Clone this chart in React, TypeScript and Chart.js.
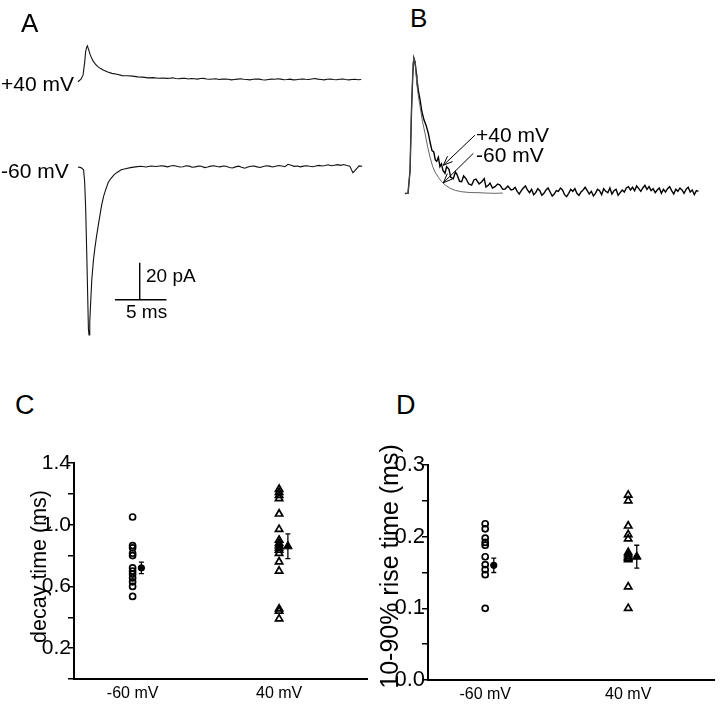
import React, { useEffect, useRef } from 'react';
import { Chart, registerables } from 'chart.js';
Chart.register(...registerables);

const FONT = '"Liberation Sans", Arial, Helvetica, sans-serif';
Chart.defaults.font.family = FONT;
Chart.defaults.color = '#000';

// ---------------- Panel A: EPSC traces (time in ms, current in pA relative to baseline)
const A_POS40_TIME = [-0.3, 0.0, 0.2, 0.35, 0.45, 0.55, 0.62, 0.75, 0.9, 1.05, 1.2, 1.4, 1.6, 1.9, 2.2, 2.6, 3.0, 3.5, 4.0, 4.5, 5.0, 5.5, 6.0, 6.5, 7.0, 7.5];
const A_POS40_CURRENT = [-1.2, 0.2, 2.5, 9, 15, 17.5, 18.2, 16, 13.3, 11.3, 9.8, 8.3, 7.1, 5.9, 5.0, 4.0, 3.3, 2.8, 2.1, 2.0, 1.8, 1.4, 1.3, 0.9, 1.0, 0.7];
const A_POS40_TAIL_START = 8.0;
const A_POS40_TAIL = [0.8, 0.6, 0.7, 0.9, 0.5, 0.4, 0.6, 0.7, 0.3, 0.5,
  0.4, 0.2, 0.5, 0.6, 0.3, 0.1, 0.3, 0.4, 0.0, 0.2,
  0.3, 0.1, -0.2, 0.0, 0.2, 0.4, 0.1, 0.0, -0.2, 0.1,
  0.3, 0.2, -0.1, -0.3, 0.0, 0.2, 0.1, 0.4, 0.2, -0.1,
  0.0, 0.2, -0.2, -0.1, 0.1, 0.3, 0.1, 0.0, 0.3, 0.5,
  0.2, 0.0, -0.2, 0.1, 0.2, 0.0, -0.1, 0.1, 0.3, 0.0,
  -0.2, 0.0, 0.1, -0.1, 0.0];
const A_NEG60_TIME = [-0.3, 0.0, 0.25, 0.35, 0.45, 0.55, 0.65, 0.72, 0.78, 0.85, 0.95, 1.05, 1.2, 1.35, 1.5, 1.7, 1.85, 2.0, 2.2, 2.4, 2.65, 2.9, 3.2, 3.5, 3.9, 4.3, 4.8, 5.3, 5.8, 6.3, 6.8, 7.3, 7.8];
const A_NEG60_CURRENT = [-0.3, -0.6, -1.8, -8, -22, -45, -70, -88, -91, -84, -72, -61, -51, -44, -38, -31, -26, -21, -16, -12.5, -8.5, -6.5, -4.5, -3.2, -1.8, -1.2, -0.6, -0.2, 0.1, -0.3, 0.3, 0.0, 0.4];
const A_NEG60_TAIL_START = 8.1;
const A_NEG60_TAIL = [0.2, -0.2, 0.3, 0.5, 0.1, -0.3, -0.1, 0.4, 0.2, -0.4,
  -0.2, 0.3, 0.1, -0.6, -0.3, 0.2, 0.4, 0.0, -0.2, 0.3,
  0.1, -0.5, -0.8, -0.2, 0.2, -0.4, -0.9, -0.3, 0.1, 0.3,
  -0.2, -0.5, 0.0, 0.4, 0.2, -0.3, 0.1, 0.5, 0.3, -0.1,
  1.2, 0.7, 0.1, 0.3, -0.2, 0.2, 0.4, 0.1, -0.1, 0.3,
  0.6, 0.3, 0.5, 0.9, 0.4, 0.7, 1.0, 0.6, 1.1, 0.5,
  0.2, -3.4, -1.5, 0.3, 0.1];
const A_TAIL_DT = 0.3;
// scale bar: 5 ms, 20 pA
const SCALE_MS = 5;
const SCALE_PA = 20;
const SCALE_T0 = 3.3;
const SCALE_VT = 5.7;
const SCALE_I0 = -72;

// ---------------- Panel B: normalized traces
const B_POS40_TIME = [-0.3, 0.0, 0.2, 0.34, 0.45, 0.52, 0.58, 0.66, 0.75, 0.87, 1.0, 1.17, 1.35, 1.55, 1.75, 1.97, 2.15, 2.33, 2.5, 2.65, 2.79, 2.95, 3.1, 3.25, 3.4, 3.59, 3.75, 3.98, 4.15, 4.4, 4.6, 4.76, 5.0, 5.21, 5.4, 5.63, 5.9, 6.18, 6.4, 6.6, 6.9, 7.16, 7.4, 7.57, 7.8, 7.96, 8.2, 8.45, 8.7, 8.93, 9.2, 9.42, 9.7, 10.0];
const B_POS40_NORM = [-0.01, -0.01, 0.16, 0.61, 0.85, 0.97, 1.0, 0.98, 0.93, 0.84, 0.76, 0.69, 0.6, 0.54, 0.5, 0.44, 0.37, 0.31, 0.30, 0.24, 0.23, 0.26, 0.19, 0.21, 0.16, 0.14, 0.19, 0.17, 0.11, 0.10, 0.15, 0.13, 0.08, 0.077, 0.12, 0.10, 0.06, 0.052, 0.09, 0.097, 0.06, 0.077, 0.10, 0.037, 0.05, 0.067, 0.03, 0.04, 0.06, 0.052, 0.02, 0.022, 0.045, 0.015];
const B_POS40_TAIL_START = 10.2;
const B_TAIL_DT = 0.2;
const B_POS40_TAIL = [0.02, 0.035, 0.005, -0.015, 0.01, 0.03, 0.045, 0.015, -0.005, 0.02,
  -0.02, -0.005, 0.025, 0.01, -0.025, -0.01, 0.015, 0.03, 0.0, -0.03,
  -0.015, 0.01, 0.005, 0.03, 0.015, -0.02, -0.035, -0.01, 0.02, 0.005,
  0.025, -0.01, -0.025, 0.0, 0.015, 0.035, 0.01, -0.015, 0.005, -0.03,
  -0.01, 0.02, 0.01, -0.02, 0.025, 0.005, -0.005, 0.03, -0.015, 0.01,
  0.02, -0.025, -0.005, 0.015, 0.0, 0.03, 0.04, 0.015, 0.035, 0.01,
  0.045, 0.025, 0.005, 0.03, 0.05, 0.02, 0.04, 0.01, 0.025, -0.005,
  0.015, 0.03, -0.01, 0.02, 0.0, 0.025, 0.04, 0.01, -0.015, 0.02,
  0.005, 0.03, 0.015, -0.01, 0.02, 0.035, 0.0, 0.015, -0.02, 0.01,
  0.005];
const B_NEG60_TIME = [-0.3, 0.0, 0.2, 0.34, 0.45, 0.52, 0.58, 0.68, 0.78, 0.87, 1.0, 1.17, 1.4, 1.65, 1.9, 2.14, 2.4, 2.62, 2.95, 3.27, 3.65, 4.08, 4.6, 5.21, 6.0, 6.8, 7.6, 8.45, 9.2];
const B_NEG60_NORM = [-0.015, -0.01, 0.16, 0.61, 0.86, 0.97, 1.0, 0.97, 0.88, 0.80, 0.72, 0.64, 0.53, 0.44, 0.34, 0.26, 0.19, 0.15, 0.11, 0.077, 0.05, 0.028, 0.012, 0.002, -0.004, -0.005, -0.008, -0.01, -0.008];
const B_ARROWS = [
  { label: '+40 mV', tailT: 6.5, tailN: 0.425, tipT: 3.43, tipN: 0.2 },
  { label: '-60 mV', tailT: 6.34, tailN: 0.289, tipT: 3.43, tipN: 0.069 },
];

// ---------------- Panels C & D: summary data
const GROUP_LABELS = ['-60 mV', '40 mV'];
const GROUP_POS = [1, 2];
const MEAN_OFFSET = 0.06;

const C_NEG60 = [1.05, 0.865, 0.85, 0.815, 0.80, 0.72, 0.70, 0.68, 0.655, 0.63, 0.60, 0.535];
const C_POS40 = [1.23, 1.21, 1.19, 1.17, 1.07, 0.97, 0.90, 0.88, 0.865, 0.85, 0.835, 0.815, 0.76, 0.70, 0.455, 0.44, 0.39];
const C_MEAN = [0.72, 0.86];
const C_SEM = [0.037, 0.08];
const C_Y_TICKS = [0, 0.2, 0.4, 0.6, 0.8, 1.0, 1.2, 1.4];
const C_Y_LABELS = ['', '0.2', '', '0.6', '', '1.0', '', '1.4'];
const C_TITLE = 'decay time (ms)';

const D_NEG60 = [0.218, 0.211, 0.198, 0.192, 0.188, 0.172, 0.161, 0.154, 0.147, 0.10];
const D_POS40 = [0.258, 0.25, 0.215, 0.203, 0.197, 0.178, 0.175, 0.172, 0.17, 0.168, 0.13, 0.10];
const D_MEAN = [0.16, 0.172];
const D_SEM = [0.01, 0.016];
const D_Y_TICKS = [0, 0.05, 0.1, 0.15, 0.2, 0.25, 0.3];
const D_Y_LABELS = ['0.0', '', '0.1', '', '0.2', '', '0.3'];
const D_TITLE = '10-90% rise time (ms)';

// ---------------- helpers
function ChartCanvas({ make, left, top, width, height }: any) {
  const ref = useRef<HTMLCanvasElement>(null);
  useEffect(() => {
    const chart = new Chart(ref.current as HTMLCanvasElement, make());
    return () => chart.destroy();
  }, []);
  return (
    <canvas
      ref={ref}
      width={width}
      height={height}
      style={{ position: 'absolute', left, top, width, height }}
    />
  );
}

function Label({ text, left, baseline, size }: any) {
  return (
    <div
      style={{
        position: 'absolute',
        left,
        top: baseline - 0.8465 * size,
        fontSize: size,
        lineHeight: `${size}px`,
        fontFamily: FONT,
        whiteSpace: 'nowrap',
        color: '#000',
      }}
    >
      {text}
    </div>
  );
}

const pairs = (t: number[], v: number[]) => t.map((x, i) => ({ x, y: v[i] }));
const tail = (start: number, dt: number, v: number[]) => v.map((y, i) => ({ x: start + i * dt, y }));

const baseOptions: any = {
  responsive: false,
  animation: false,
  events: [],
  plugins: { legend: { display: false }, tooltip: { enabled: false } },
};

// ---------------- Panel A config
const A_W = 370, A_H = 350;
const A_X0 = 81, A_PX_MS = 10.3, A_PX_PA = 1.85, A_TOP_BASE = 79.5, A_BOT_BASE = 166.5;

function makeA() {
  return {
    type: 'line',
    data: {
      datasets: [
        { data: [...pairs(A_POS40_TIME, A_POS40_CURRENT), ...tail(A_POS40_TAIL_START, A_TAIL_DT, A_POS40_TAIL)], yAxisID: 'yTop', borderColor: '#111', borderWidth: 1.1 },
        { data: [...pairs(A_NEG60_TIME, A_NEG60_CURRENT), ...tail(A_NEG60_TAIL_START, A_TAIL_DT, A_NEG60_TAIL)], yAxisID: 'yBot', borderColor: '#111', borderWidth: 1.1 },
        { data: [{ x: SCALE_T0, y: SCALE_I0 }, { x: SCALE_T0 + SCALE_MS, y: SCALE_I0 }], yAxisID: 'yBot', borderColor: '#000', borderWidth: 1.4 },
        { data: [{ x: SCALE_VT, y: SCALE_I0 }, { x: SCALE_VT, y: SCALE_I0 + SCALE_PA }], yAxisID: 'yBot', borderColor: '#000', borderWidth: 1.4 },
      ],
    },
    options: {
      ...baseOptions,
      layout: { padding: 0 },
      elements: { point: { radius: 0 }, line: { tension: 0 } },
      scales: {
        x: { type: 'linear', display: false, min: -A_X0 / A_PX_MS, max: (A_W - A_X0) / A_PX_MS },
        yTop: { type: 'linear', display: false, min: -(A_H - A_TOP_BASE) / A_PX_PA, max: A_TOP_BASE / A_PX_PA },
        yBot: { type: 'linear', display: false, min: -(A_H - A_BOT_BASE) / A_PX_PA, max: A_BOT_BASE / A_PX_PA },
      },
    },
  };
}

// ---------------- Panel B config
const B_W = 320, B_H = 175;
const B_X0 = 8, B_PX_MS = 10.3, B_BASE = 152, B_PX_UNIT = 133.7;

const arrowPlugin = {
  id: 'arrowsB',
  afterDatasetsDraw(chart: any) {
    const { ctx } = chart;
    const x = chart.scales.x, y = chart.scales.y;
    ctx.save();
    ctx.strokeStyle = '#000';
    ctx.lineWidth = 1;
    B_ARROWS.forEach((a) => {
      const x1 = x.getPixelForValue(a.tailT), y1 = y.getPixelForValue(a.tailN);
      const x2 = x.getPixelForValue(a.tipT), y2 = y.getPixelForValue(a.tipN);
      const ang = Math.atan2(y2 - y1, x2 - x1);
      const L = 10, s = 0.38;
      ctx.beginPath();
      ctx.moveTo(x1, y1);
      ctx.lineTo(x2, y2);
      ctx.moveTo(x2 - L * Math.cos(ang - s), y2 - L * Math.sin(ang - s));
      ctx.lineTo(x2, y2);
      ctx.lineTo(x2 - L * Math.cos(ang + s), y2 - L * Math.sin(ang + s));
      ctx.stroke();
    });
    ctx.restore();
  },
};

function makeB() {
  return {
    type: 'line',
    data: {
      datasets: [
        { data: pairs(B_NEG60_TIME, B_NEG60_NORM), borderColor: '#555', borderWidth: 0.9 },
        { data: [...pairs(B_POS40_TIME, B_POS40_NORM), ...tail(B_POS40_TAIL_START, B_TAIL_DT, B_POS40_TAIL)], borderColor: '#000', borderWidth: 1.4 },
      ],
    },
    options: {
      ...baseOptions,
      layout: { padding: 0 },
      elements: { point: { radius: 0 }, line: { tension: 0 } },
      scales: {
        x: { type: 'linear', display: false, min: -B_X0 / B_PX_MS, max: (B_W - B_X0) / B_PX_MS },
        y: { type: 'linear', display: false, min: -(B_H - B_BASE) / B_PX_UNIT, max: B_BASE / B_PX_UNIT },
      },
    },
    plugins: [arrowPlugin],
  };
}

// ---------------- Panels C / D config
function errorBars(id: string, means: number[], sems: number[]) {
  return {
    id,
    afterDatasetsDraw(chart: any) {
      const { ctx } = chart;
      const x = chart.scales.x, y = chart.scales.y;
      ctx.save();
      ctx.strokeStyle = '#000';
      ctx.lineWidth = 1.3;
      means.forEach((m, i) => {
        const px = x.getPixelForValue(GROUP_POS[i] + MEAN_OFFSET);
        const yt = y.getPixelForValue(m + sems[i]);
        const yb = y.getPixelForValue(m - sems[i]);
        ctx.beginPath();
        ctx.moveTo(px, yt);
        ctx.lineTo(px, yb);
        ctx.moveTo(px - 2.5, yt);
        ctx.lineTo(px + 2.5, yt);
        ctx.moveTo(px - 2.5, yb);
        ctx.lineTo(px + 2.5, yb);
        ctx.stroke();
      });
      ctx.restore();
    },
  };
}

function yTitle(id: string, text: string, baselineX: number, centerY: number, size: number) {
  return {
    id,
    afterDraw(chart: any) {
      const { ctx } = chart;
      ctx.save();
      ctx.translate(baselineX, centerY);
      ctx.rotate(-Math.PI / 2);
      ctx.font = `${size}px ${FONT}`;
      ctx.fillStyle = '#000';
      ctx.textAlign = 'center';
      ctx.textBaseline = 'alphabetic';
      ctx.fillText(text, 0, 0);
      ctx.restore();
    },
  };
}

function makeSummary(opts: any) {
  const { neg, pos, means, sems, yTicks, yLabels, yMax, yWidth, xHeight, padTop, padRight, tickFont, id, title, titleX, titleY, titleSize } = opts;
  return {
    type: 'scatter',
    data: {
      datasets: [
        { data: neg.map((v: number) => ({ x: GROUP_POS[0], y: v })), pointStyle: 'circle', pointRadius: 3, borderColor: '#000', backgroundColor: 'rgba(0,0,0,0)', borderWidth: 1.7 },
        { data: pos.map((v: number) => ({ x: GROUP_POS[1], y: v })), pointStyle: 'triangle', pointRadius: 4.2, borderColor: '#000', backgroundColor: 'rgba(0,0,0,0)', borderWidth: 1.7 },
        { data: [{ x: GROUP_POS[0] + MEAN_OFFSET, y: means[0] }], pointStyle: 'circle', pointRadius: 3.2, borderColor: '#000', backgroundColor: '#000', borderWidth: 1 },
        { data: [{ x: GROUP_POS[1] + MEAN_OFFSET, y: means[1] }], pointStyle: 'triangle', pointRadius: 5, borderColor: '#000', backgroundColor: '#000', borderWidth: 1 },
      ],
    },
    options: {
      ...baseOptions,
      layout: { padding: { top: padTop, right: padRight, left: 0, bottom: 0 } },
      scales: {
        x: {
          type: 'linear',
          min: 0.6,
          max: 2.6,
          afterBuildTicks: (s: any) => { s.ticks = GROUP_POS.map((v) => ({ value: v })); },
          afterFit: (s: any) => { s.height = xHeight; },
          ticks: { callback: (_v: any, i: number) => GROUP_LABELS[i], font: { size: 16 }, padding: 5, maxRotation: 0, autoSkip: false },
          grid: { drawOnChartArea: false, drawTicks: false },
          border: { display: true, color: '#000', width: 2 },
        },
        y: {
          type: 'linear',
          min: 0,
          max: yMax,
          afterBuildTicks: (s: any) => { s.ticks = yTicks.map((v: number) => ({ value: v })); },
          afterFit: (s: any) => { s.width = yWidth; },
          ticks: { callback: (_v: any, i: number) => yLabels[i], font: { size: tickFont }, padding: -3, autoSkip: false },
          grid: { drawOnChartArea: false, drawTicks: true, tickLength: 6, color: '#000', lineWidth: 1.5 },
          border: { display: true, color: '#000', width: 2 },
        },
      },
    },
    plugins: [errorBars(id, means, sems), yTitle(id + 't', title, titleX, titleY, titleSize)],
  };
}

const makeC = () => makeSummary({ id: 'ebC', neg: C_NEG60, pos: C_POS40, means: C_MEAN, sems: C_SEM, yTicks: C_Y_TICKS, yLabels: C_Y_LABELS, yMax: 1.4, yWidth: 74, xHeight: 25, padTop: 33, padRight: 13, tickFont: 21, title: C_TITLE, titleX: 46, titleY: 136.5, titleSize: 21.5 });
const makeD = () => makeSummary({ id: 'ebD', neg: D_NEG60, pos: D_POS40, means: D_MEAN, sems: D_SEM, yTicks: D_Y_TICKS, yLabels: D_Y_LABELS, yMax: 0.3, yWidth: 58, xHeight: 24, padTop: 35, padRight: 0, tickFont: 22, title: D_TITLE, titleX: 28, titleY: 136.5, titleSize: 25 });

export default function App() {
  return (
    <div style={{ position: 'absolute', left: 0, top: 0, width: 720, height: 704, background: '#fff', overflow: 'hidden' }}>
      <ChartCanvas make={makeA} left={0} top={0} width={A_W} height={A_H} />
      <ChartCanvas make={makeB} left={400} top={40} width={B_W} height={B_H} />
      <ChartCanvas make={makeC} left={0} top={430} width={380} height={274} />
      <ChartCanvas make={makeD} left={370} top={430} width={350} height={274} />

      <Label text="A" left={21} baseline={32} size={26} />
      <Label text="+40 mV" left={1} baseline={90.5} size={21} />
      <Label text="-60 mV" left={1} baseline={178} size={21} />
      <Label text="20 pA" left={146} baseline={282} size={19} />
      <Label text="5 ms" left={126} baseline={318} size={19} />

      <Label text="B" left={410} baseline={27} size={26} />
      <Label text="+40 mV" left={476} baseline={142} size={21} />
      <Label text="-60 mV" left={476} baseline={162} size={21} />

      <Label text="C" left={15} baseline={415} size={27} />
      <Label text="D" left={396} baseline={415} size={27} />
    </div>
  );
}
